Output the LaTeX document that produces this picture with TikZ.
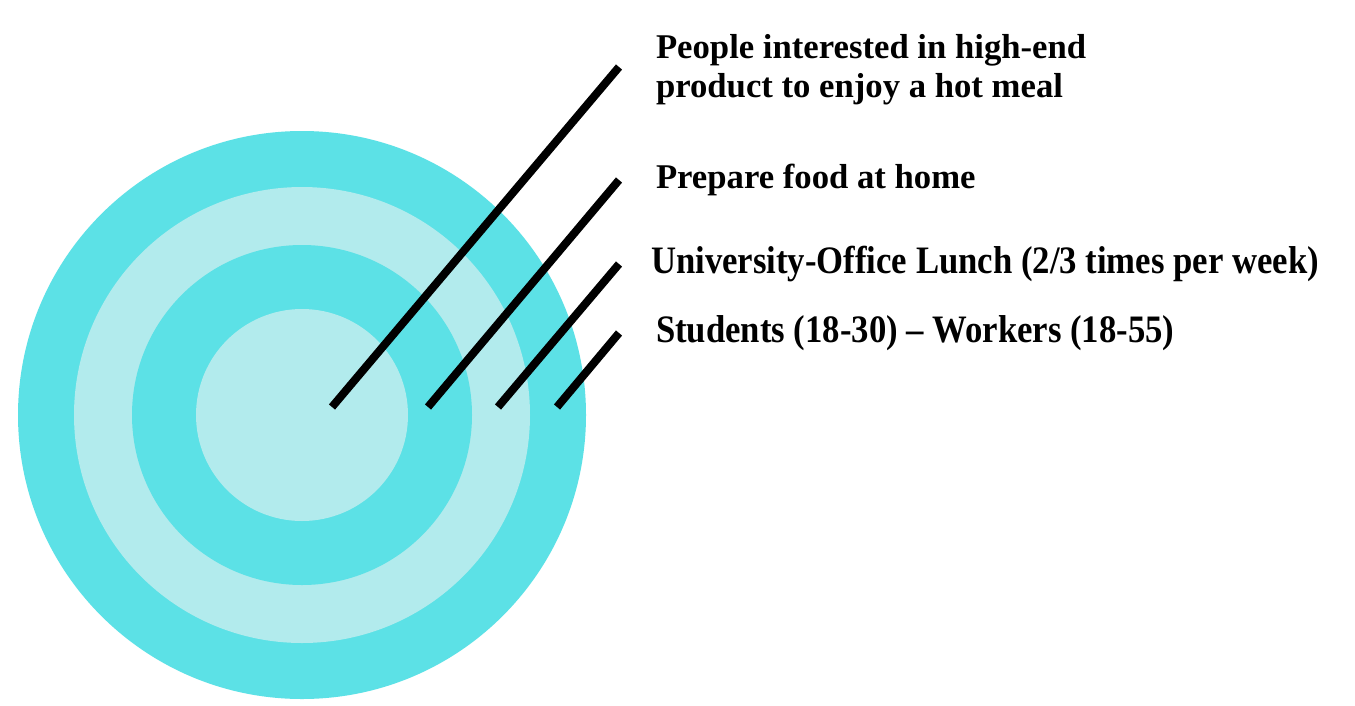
\documentclass[tikz,border=0pt]{standalone}
\usepackage{fontspec}
\setmainfont{Liberation Serif}
\definecolor{ringdark}{HTML}{5CE1E6}
\definecolor{ringlight}{HTML}{B2EBED}
\begin{document}
\begin{tikzpicture}[x=1pt,y=-1pt,
  lbl/.style={anchor=base west,inner sep=0pt,outer sep=0pt,align=left,
    font=\fontsize{34.7}{39}\selectfont\bfseries},
  stick/.style={line width=8pt,black,line cap=butt},
  ringd/.style={fill=ringdark,draw=none},
  ringl/.style={fill=ringlight,draw=none}]
\useasboundingbox (0,0) rectangle (1355,705);
\fill[white] (0,0) rectangle (1355,705);
\coordinate (c) at (302,415);
\fill[ringd] (c) circle[radius=284];
\fill[ringl] (c) circle[radius=228];
\fill[ringd] (c) circle[radius=170];
\fill[ringl] (c) circle[radius=106];
\coordinate (s1) at (332,407); \coordinate (e1) at (619,67);
\coordinate (s2) at (428,407); \coordinate (e2) at (619,180);
\coordinate (s3) at (498,407); \coordinate (e3) at (619,264);
\coordinate (s4) at (557,407); \coordinate (e4) at (619,333);
\draw[stick] (s1) -- (e1);
\draw[stick] (s2) -- (e2);
\draw[stick] (s3) -- (e3);
\draw[stick] (s4) -- (e4);
\node[lbl] (t1) at (656,97) {People interested in high-end\\product to enjoy a hot meal};
\node[lbl] (t2) at (656,188) {Prepare food at home};
\node[lbl] (t3) at (651,273) {\scalebox{1}[1.12]{University-Office Lunch (2/3 times per week)}};
\node[lbl] (t4) at (656,342) {\scalebox{1}[1.12]{Students (18-30) -- Workers (18-55)}};
\end{tikzpicture}
\end{document}
